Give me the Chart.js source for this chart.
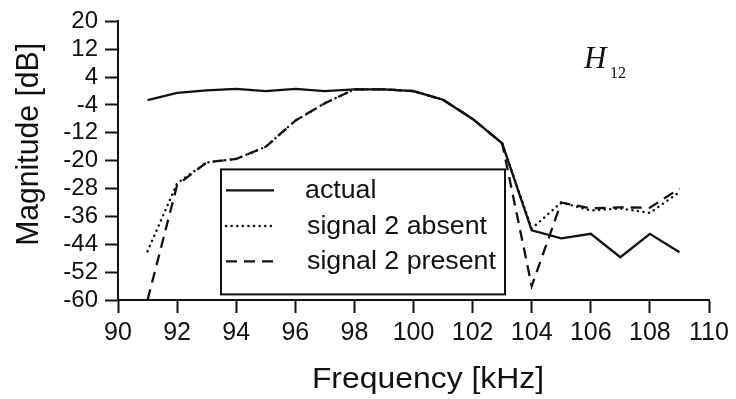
<!DOCTYPE html>
<html>
<head>
<meta charset="utf-8">
<script src="https://cdn.jsdelivr.net/npm/chart.js@4.4.1/dist/chart.umd.min.js"></script>
<style>
  html, body { margin: 0; padding: 0; background: #fff; }
  #wrap { width: 736px; height: 399px; }
</style>
</head>
<body>
<div id="wrap"><canvas id="chart" width="736" height="399"></canvas></div>
<script>
// Frequency grid (kHz) shared by all three responses
const frequencies = [91, 92, 93, 94, 95, 96, 97, 98, 99, 100, 101, 102, 103, 104, 105, 106, 107, 108, 109];

// Magnitude of H12 in dB
const actual         = [-2.6, -0.5, 0.2, 0.6, 0.0, 0.6, 0.0, 0.5, 0.5, 0.0, -2.5, -8.0, -15.0, -40.0, -42.3, -41.0, -47.7, -41.0, -46.3];
const signal2Absent  = [-46.0, -26.5, -20.5, -19.5, -16.0, -8.5, -3.5, 0.5, 0.5, 0.0, -2.5, -8.0, -15.0, -39.5, -32.0, -34.3, -33.7, -35.0, -29.0];
const signal2Present = [-60.0, -27.0, -20.5, -19.5, -16.0, -8.5, -3.5, 0.5, 0.5, 0.0, -2.5, -8.0, -15.0, -56.0, -32.0, -33.7, -33.4, -33.5, -28.0];

const seriesNames = ['actual', 'signal 2 absent', 'signal 2 present'];

// Axis ticks
const xTicks = [90, 92, 94, 96, 98, 100, 102, 104, 106, 108, 110];
const yTicks = [20, 12, 4, -4, -12, -20, -28, -36, -44, -52, -60];

const xTitle = 'Frequency [kHz]';
const yTitle = 'Magnitude [dB]';
const plotLabel = 'H';
const plotLabelSub = '12';

const SANS = '"Liberation Sans", Arial, Helvetica, sans-serif';
const INK = '#111';
const WIDE = 1.1;   // slightly widened lettering for titles and legend

const toPoints = vals => frequencies.map((f, i) => ({ x: f, y: vals[i] }));

// Draw text widened horizontally around its anchor
function wideText(ctx, text, x, y, sx) {
  ctx.save();
  ctx.translate(x, y);
  ctx.scale(sx, 1);
  ctx.fillText(text, 0, 0);
  ctx.restore();
}

// Titles, the H12 tag and the boxed legend are painted on top of the plot
const decorations = {
  id: 'decorations',
  afterDraw(chart) {
    const { ctx, chartArea: a } = chart;
    ctx.save();
    ctx.fillStyle = INK;

    // x-axis title
    ctx.font = '29px ' + SANS;
    ctx.textAlign = 'center';
    ctx.textBaseline = 'middle';
    wideText(ctx, xTitle, a.left + 310, 380, WIDE);

    // y-axis title (rotated; widen across the line of text)
    ctx.save();
    ctx.translate(29, a.top + 123);
    ctx.rotate(-Math.PI / 2);
    ctx.scale(1.04, WIDE);
    ctx.fillText(yTitle, 0, 0);
    ctx.restore();

    // H12 tag
    ctx.textAlign = 'left';
    ctx.textBaseline = 'alphabetic';
    ctx.font = 'italic 31px "Liberation Serif", "Times New Roman", serif';
    ctx.fillText(plotLabel, a.left + 466, a.top + 47);
    ctx.font = '16px "Liberation Serif", "Times New Roman", serif';
    ctx.fillText(plotLabelSub, a.left + 492, a.top + 57);

    // legend box
    const bx = a.left + 103, by = a.top + 148, bw = 284, bh = 125;
    ctx.fillStyle = '#fff';
    ctx.fillRect(bx, by, bw, bh);
    ctx.strokeStyle = INK;
    ctx.lineWidth = 2;
    ctx.strokeRect(bx, by, bw, bh);

    ctx.font = '25px ' + SANS;
    ctx.textBaseline = 'middle';
    ctx.fillStyle = INK;
    chart.data.datasets.forEach((ds, i) => {
      const y = by + 21 + i * 35.5;
      ctx.save();
      ctx.strokeStyle = ds.borderColor;
      ctx.lineWidth = ds.borderWidth;
      ctx.lineCap = ds.borderCapStyle || 'butt';
      ctx.setLineDash(ds.borderDash || []);
      ctx.beginPath();
      ctx.moveTo(bx + 5, y);
      ctx.lineTo(bx + 53, y);
      ctx.stroke();
      ctx.restore();
      wideText(ctx, ds.label, bx + 84 + (i ? 2 : 0), y + 1, 1.07);
    });
    ctx.restore();
  }
};

new Chart(document.getElementById('chart'), {
  type: 'line',
  data: {
    datasets: [
      {
        label: seriesNames[0],
        data: toPoints(actual),
        borderColor: INK, borderWidth: 2.3, borderDash: [],
        pointRadius: 0, tension: 0
      },
      {
        label: seriesNames[1],
        data: toPoints(signal2Absent),
        borderColor: INK, borderWidth: 2.5, borderDash: [0.1, 5.5], borderCapStyle: 'round',
        pointRadius: 0, tension: 0
      },
      {
        label: seriesNames[2],
        data: toPoints(signal2Present),
        borderColor: INK, borderWidth: 2.3, borderDash: [11, 7],
        pointRadius: 0, tension: 0
      }
    ]
  },
  options: {
    responsive: false,
    animation: false,
    devicePixelRatio: 1,
    layout: { padding: { left: 0, top: 20, right: 27, bottom: 0 } },
    plugins: { legend: { display: false }, tooltip: { enabled: false } },
    scales: {
      x: {
        type: 'linear', min: 90, max: 110,
        afterFit: s => { s.height = 99; },
        afterBuildTicks: s => { s.ticks = xTicks.map(v => ({ value: v })); },
        border: { display: true, color: INK, width: 2 },
        grid: { display: true, drawOnChartArea: false, drawTicks: true, tickLength: 13, tickWidth: 2, tickColor: INK },
        ticks: { color: INK, font: { family: SANS, size: 25 }, padding: 5, maxRotation: 0, autoSkip: false }
      },
      y: {
        type: 'linear', min: -60, max: 20,
        afterFit: s => { s.width = 118; },
        afterBuildTicks: s => { s.ticks = yTicks.map(v => ({ value: v })); },
        border: { display: true, color: INK, width: 2 },
        grid: { display: true, drawOnChartArea: false, drawTicks: true, tickLength: 13, tickWidth: 2, tickColor: INK },
        ticks: { color: INK, font: { family: SANS, size: 24 }, padding: 7, autoSkip: false }
      }
    }
  },
  plugins: [decorations]
});
</script>
</body>
</html>
